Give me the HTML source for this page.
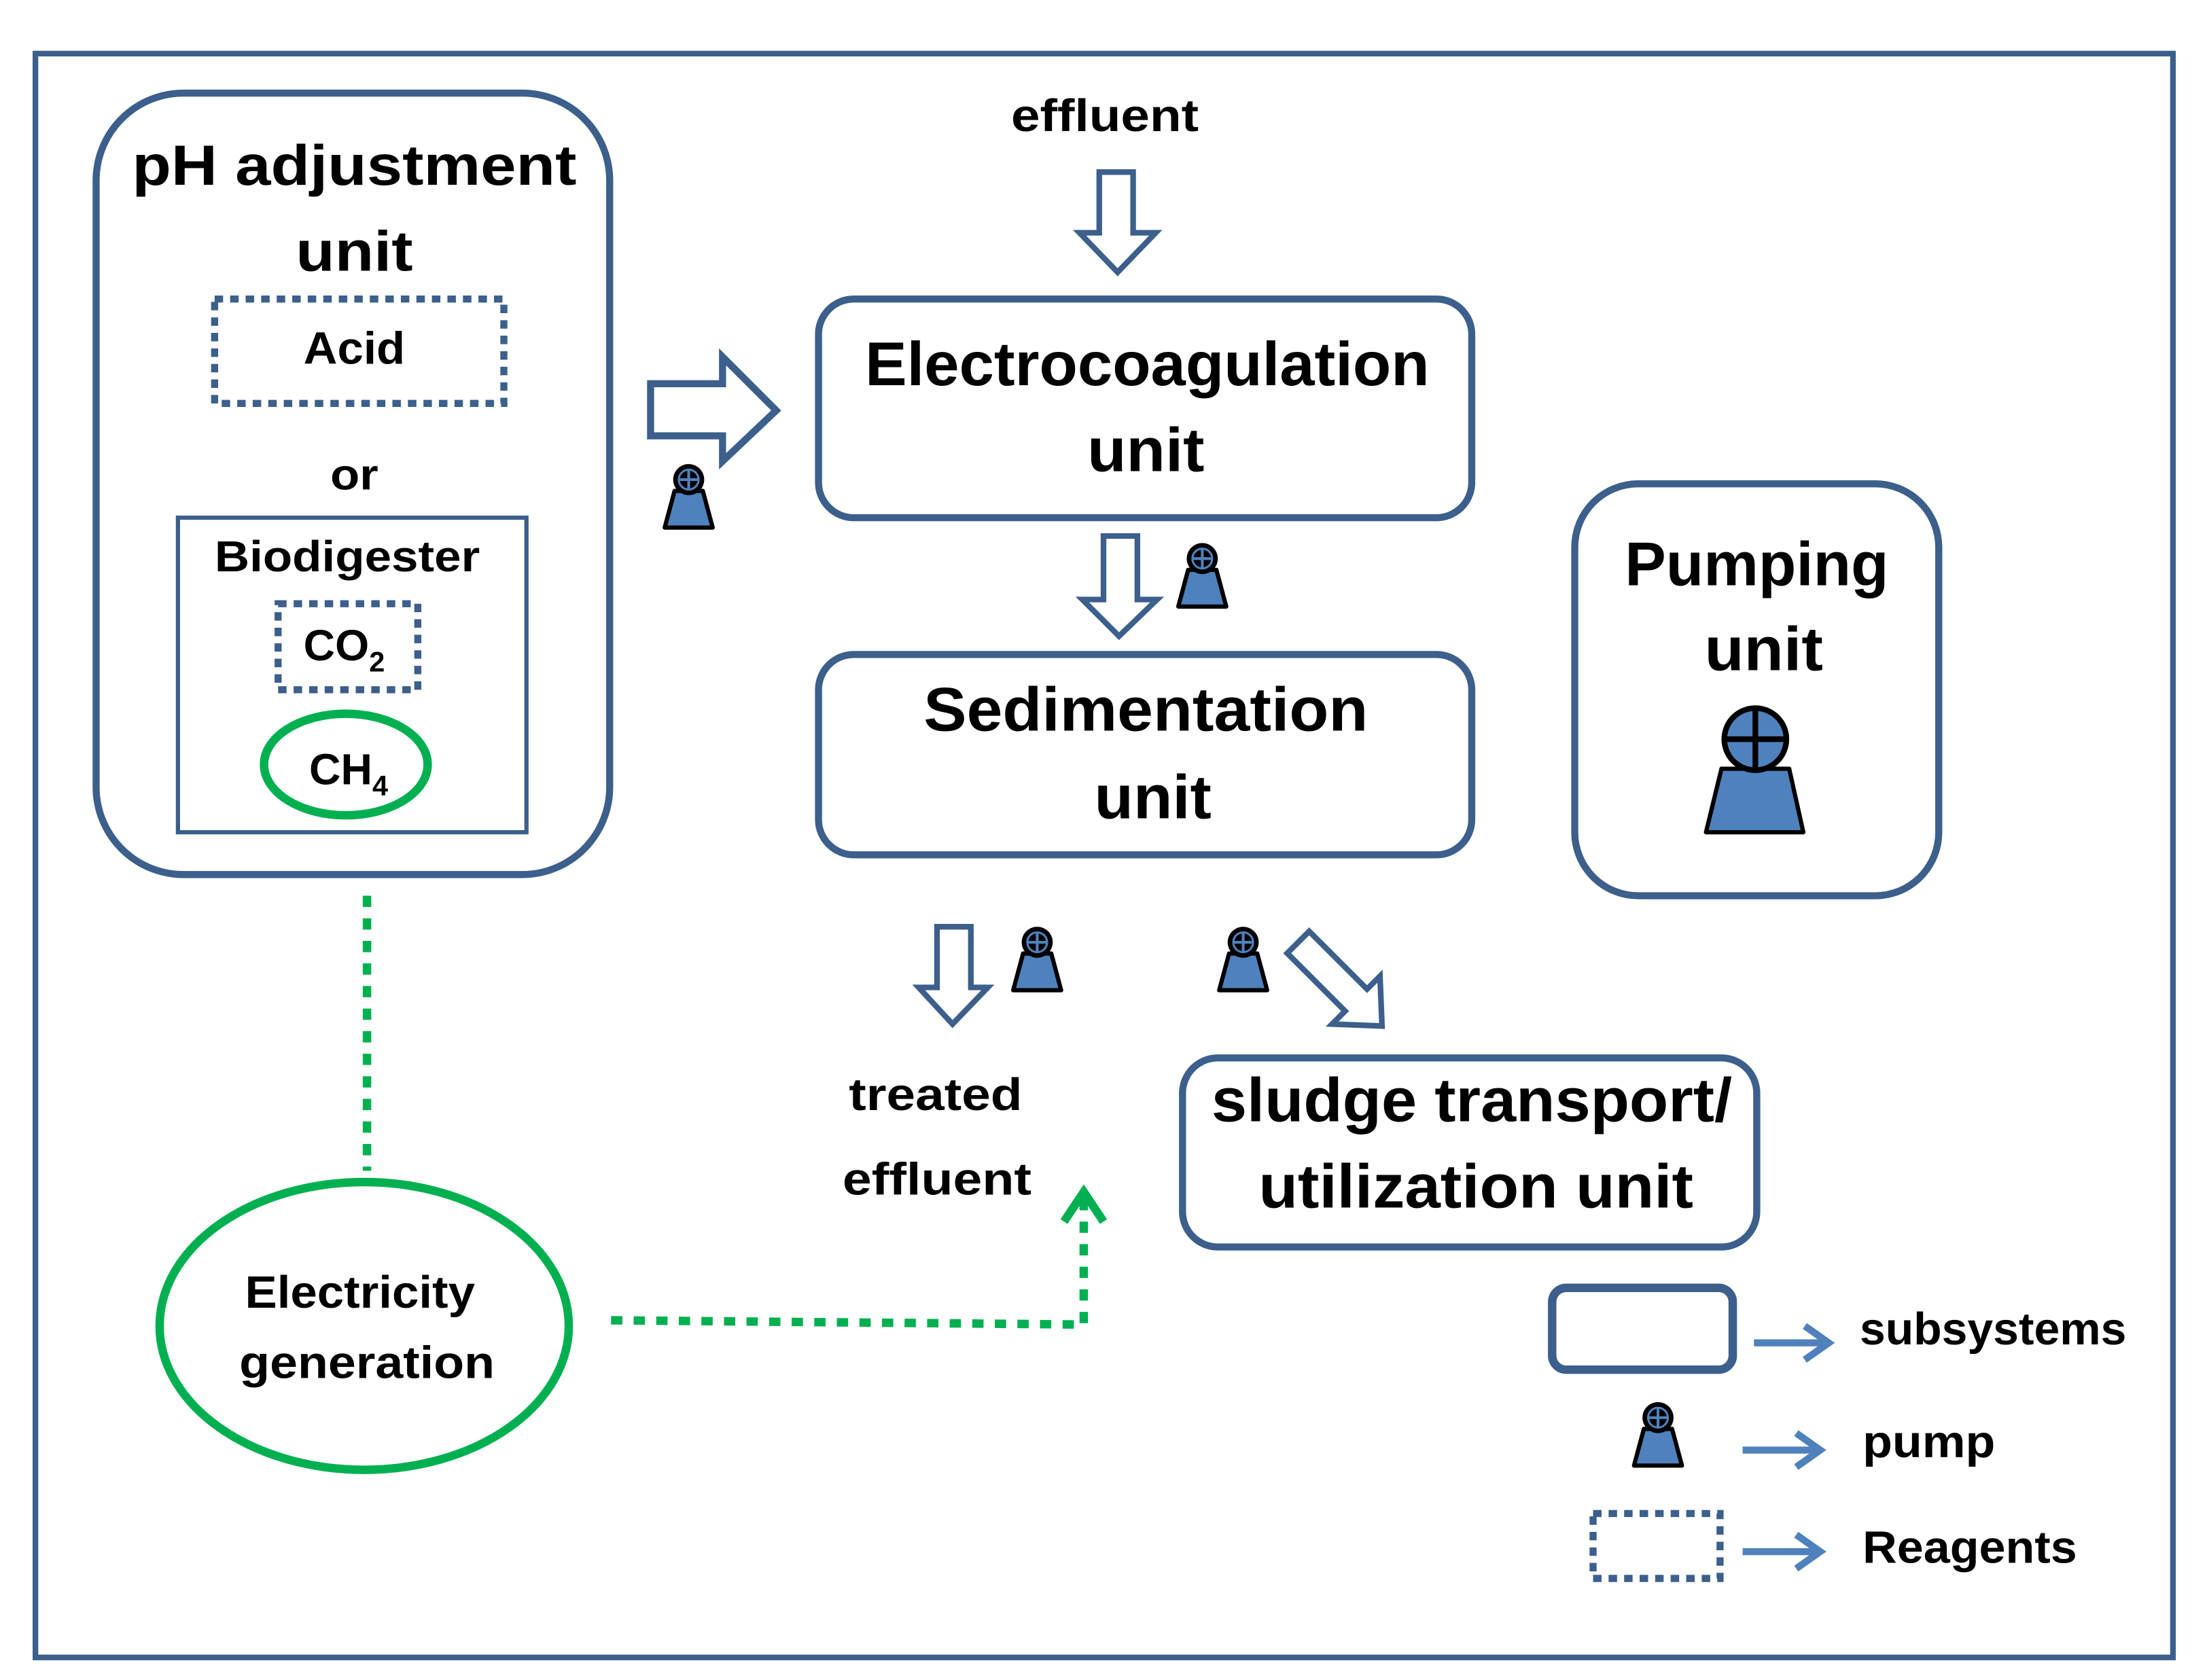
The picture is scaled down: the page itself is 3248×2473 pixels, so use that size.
<!DOCTYPE html>
<html><head><meta charset="utf-8"><style>html,body{margin:0;padding:0;background:#fff}svg{display:block}</style></head>
<body>
<svg width="3248" height="2473" viewBox="0 0 1564 1191" xmlns="http://www.w3.org/2000/svg" font-family="'Liberation Sans', sans-serif" font-weight="bold">
<defs>
<g id="pump">
 <path d="M-10,8 L10,8 L17,34 L-17,34 Z" fill="#4f81bd" stroke="#000" stroke-width="3" stroke-linejoin="round"/>
 <circle cx="0" cy="0" r="11" fill="#000"/>
 <path d="M-7,0 H7 M0,-7 V7" stroke="#4f81bd" stroke-width="2"/>
 <circle cx="0" cy="0" r="7" fill="none" stroke="#4f81bd" stroke-width="1.5"/>
</g>
</defs>
<rect x="0" y="0" width="1564" height="1191" fill="#fff"/>
<!-- outer frame -->
<rect x="25" y="38" width="1515" height="1137" fill="none" stroke="#3c5f8c" stroke-width="4"/>

<!-- pH adjustment unit -->
<rect x="68" y="66" width="364" height="554" rx="62" fill="none" stroke="#3c5f8c" stroke-width="5"/>
<text x="251" y="131" font-size="40" text-anchor="middle" textLength="315" lengthAdjust="spacingAndGlyphs">pH adjustment</text>
<text x="251" y="192" font-size="40" text-anchor="middle" textLength="83" lengthAdjust="spacingAndGlyphs">unit</text>
<rect x="152" y="212" width="205" height="74" fill="none" stroke="#3c5f8c" stroke-width="5" stroke-dasharray="6,5"/>
<text x="251" y="258" font-size="32" text-anchor="middle" textLength="72" lengthAdjust="spacingAndGlyphs">Acid</text>
<text x="251" y="347" font-size="31" text-anchor="middle" textLength="34" lengthAdjust="spacingAndGlyphs">or</text>
<rect x="126" y="367" width="247" height="223" fill="none" stroke="#3c5f8c" stroke-width="3"/>
<text x="246" y="405" font-size="31" text-anchor="middle" textLength="188" lengthAdjust="spacingAndGlyphs">Biodigester</text>
<rect x="197" y="428" width="99" height="61" fill="none" stroke="#3c5f8c" stroke-width="5" stroke-dasharray="6,5"/>
<text x="215" y="468" font-size="31">CO<tspan font-size="20" dy="8">2</tspan></text>
<ellipse cx="245" cy="542" rx="58" ry="36" fill="none" stroke="#00b050" stroke-width="6"/>
<text x="219" y="556" font-size="31">CH<tspan font-size="20" dy="8">4</tspan></text>

<!-- green dotted lines -->
<line x1="260" y1="635" x2="260" y2="830" stroke="#00b050" stroke-width="6" stroke-dasharray="8,8"/>
<ellipse cx="258" cy="940" rx="145" ry="102" fill="none" stroke="#00b050" stroke-width="6"/>
<text x="255" y="927" font-size="32" text-anchor="middle" textLength="163" lengthAdjust="spacingAndGlyphs">Electricity</text>
<text x="260" y="977" font-size="32" text-anchor="middle" textLength="181" lengthAdjust="spacingAndGlyphs">generation</text>
<polyline points="433,936 768,939 768,850" fill="none" stroke="#00b050" stroke-width="6" stroke-dasharray="8,8"/>
<polyline points="754,866 768,845 782,866" fill="none" stroke="#00b050" stroke-width="6"/>

<!-- effluent -->
<text x="783" y="93" font-size="32" text-anchor="middle" textLength="133" lengthAdjust="spacingAndGlyphs">effluent</text>
<path d="M779,122 H803 V165 H819 L792,193 L765,165 H779 Z" fill="#fff" stroke="#3c5f8c" stroke-width="4"/>

<!-- right arrow -->
<path d="M461,272 H512 V253 L550,291 L512,327 V309 H461 Z" fill="#fff" stroke="#3c5f8c" stroke-width="5"/>
<use href="#pump" x="488" y="340"/>

<!-- Electrocoagulation -->
<rect x="580" y="212" width="463" height="155" rx="25" fill="none" stroke="#3c5f8c" stroke-width="5"/>
<text x="813" y="273" font-size="44" text-anchor="middle" textLength="400" lengthAdjust="spacingAndGlyphs">Electrocoagulation</text>
<text x="812" y="334" font-size="44" text-anchor="middle" textLength="83" lengthAdjust="spacingAndGlyphs">unit</text>

<path d="M782,380 H806 V425 H820 L793,451 L767,425 H782 Z" fill="#fff" stroke="#3c5f8c" stroke-width="4"/>
<use href="#pump" x="852" y="396"/>

<!-- Sedimentation -->
<rect x="580" y="464" width="463" height="142" rx="25" fill="none" stroke="#3c5f8c" stroke-width="5"/>
<text x="812" y="518" font-size="44" text-anchor="middle" textLength="315" lengthAdjust="spacingAndGlyphs">Sedimentation</text>
<text x="817" y="580" font-size="44" text-anchor="middle" textLength="83" lengthAdjust="spacingAndGlyphs">unit</text>

<!-- Pumping unit -->
<rect x="1116" y="343" width="258" height="292" rx="45" fill="none" stroke="#3c5f8c" stroke-width="5"/>
<text x="1245" y="415" font-size="44" text-anchor="middle" textLength="187" lengthAdjust="spacingAndGlyphs">Pumping</text>
<text x="1250" y="475" font-size="44" text-anchor="middle" textLength="84" lengthAdjust="spacingAndGlyphs">unit</text>
<path d="M1220,545 L1268,545 L1278,590 L1209,590 Z" fill="#4f81bd" stroke="#000" stroke-width="3" stroke-linejoin="round"/>
<circle cx="1244" cy="524" r="22" fill="#4f81bd" stroke="#000" stroke-width="4"/>
<path d="M1222,524 H1266 M1244,502 V546" stroke="#000" stroke-width="4"/>

<!-- treated effluent arrow -->
<path d="M664,657 H688 V700 H700 L675,726 L651,700 H664 Z" fill="#fff" stroke="#3c5f8c" stroke-width="4"/>
<use href="#pump" x="735" y="668"/>
<use href="#pump" x="881" y="668"/>
<g transform="translate(920,668) rotate(45)">
 <path d="M0,-11 H58 V-24 L84,0 L58,24 V11 H0 Z" fill="#fff" stroke="#3c5f8c" stroke-width="4"/>
</g>
<text x="663" y="787" font-size="32" text-anchor="middle" textLength="123" lengthAdjust="spacingAndGlyphs">treated</text>
<text x="664" y="847" font-size="32" text-anchor="middle" textLength="134" lengthAdjust="spacingAndGlyphs">effluent</text>

<!-- sludge -->
<rect x="838" y="750" width="407" height="134" rx="25" fill="none" stroke="#3c5f8c" stroke-width="5"/>
<text x="1043" y="795" font-size="44" text-anchor="middle" textLength="369" lengthAdjust="spacingAndGlyphs">sludge transport/</text>
<text x="1046" y="856" font-size="44" text-anchor="middle" textLength="308" lengthAdjust="spacingAndGlyphs">utilization unit</text>

<!-- legend -->
<rect x="1100" y="913" width="128" height="58" rx="10" fill="none" stroke="#3c5f8c" stroke-width="6"/>
<g stroke="#4f81bd" stroke-width="5" fill="none">
 <line x1="1243" y1="952" x2="1296" y2="952"/><polyline points="1279,940 1296,952 1279,964"/>
 <line x1="1235" y1="1028" x2="1290" y2="1028"/><polyline points="1273,1016 1290,1028 1273,1040"/>
 <line x1="1235" y1="1100" x2="1290" y2="1100"/><polyline points="1273,1088 1290,1100 1273,1112"/>
</g>
<text x="1318" y="953" font-size="32" textLength="189" lengthAdjust="spacingAndGlyphs">subsystems</text>
<use href="#pump" x="1175" y="1005"/>
<text x="1320" y="1033" font-size="32" textLength="94" lengthAdjust="spacingAndGlyphs">pump</text>
<rect x="1129" y="1073" width="90" height="46" fill="none" stroke="#3c5f8c" stroke-width="5" stroke-dasharray="6,5"/>
<text x="1320" y="1108" font-size="32" textLength="152" lengthAdjust="spacingAndGlyphs">Reagents</text>
</svg>
</body></html>
